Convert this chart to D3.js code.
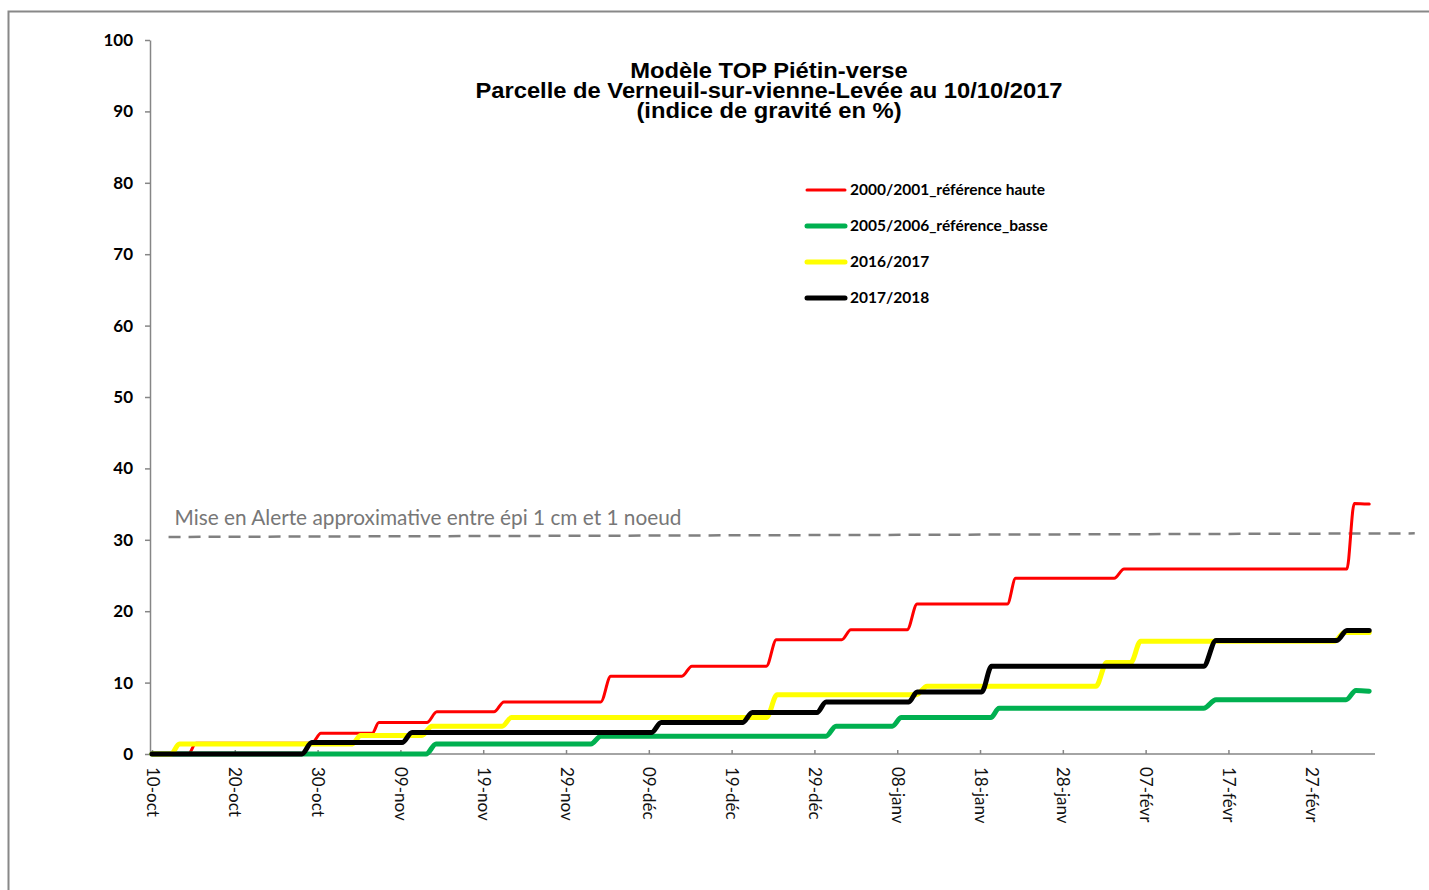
<!DOCTYPE html>
<html>
<head>
<meta charset="utf-8">
<script src="https://cdn.jsdelivr.net/npm/d3@7"></script>
<style>
  body { margin: 0; background: #fff; }
  text { font-family: Lato, "Open Sans", sans-serif; }
</style>
</head>
<body>
<div id="vis"></div>
<script>
// Days counted from 10-oct (day 0); each series = [day, indice de gravité %]
const seriesNames = ["2000/2001_référence haute", "2005/2006_référence_basse", "2016/2017", "2017/2018"];
const seriesColors = ["#ff0000", "#00b050", "#ffff00", "#000000"];
const seriesWidths = [3, 5, 5, 5];

const haute2000 = [[0,0],[4.4,0],[5.3,1.5],[19.3,1.5],[20.4,2.9],[26.6,2.9],[27.4,4.4],[33.2,4.4],[34.4,5.9],
  [41.3,5.9],[42.5,7.3],[54.2,7.3],[55.4,10.9],[64,10.9],[65.2,12.3],[74.2,12.3],[75.4,16.0],[83.3,16.0],
  [84.4,17.4],[91.2,17.4],[92.4,21.0],[103.3,21.0],[104.3,24.6],[116.2,24.6],[117.4,25.9],[144.3,25.9],
  [145.2,35.1],[147,35.0]];
const basse2005 = [[0,0],[33.1,0],[34.3,1.4],[53,1.4],[54.2,2.5],[81.4,2.5],[82.6,3.9],[89.4,3.9],[90.5,5.1],
  [101.3,5.1],[102.3,6.4],[127,6.4],[128.5,7.6],[144.2,7.6],[145.4,8.9],[147,8.8]];
const saison2016 = [[0,0],[2.3,0],[3.3,1.4],[24.2,1.4],[25.2,2.6],[32.6,2.6],[33.8,3.9],[42.3,3.9],[43.4,5.1],
  [74.2,5.1],[75.5,8.3],[92.3,8.3],[93.6,9.5],[114,9.5],[115.3,12.8],[118.2,12.8],[119.4,15.8],[142.8,15.8],
  [144,17.0],[147,17.0]];
const saison2017 = [[0,0],[18.1,0],[19.3,1.6],[30.2,1.6],[31.4,3.0],[60.3,3.0],[61.5,4.4],[71.3,4.4],[72.5,5.8],
  [80.3,5.8],[81.4,7.3],[91.4,7.3],[92.4,8.7],[100.2,8.7],[101.4,12.3],[127,12.3],[128.5,15.9],[143.1,15.9],
  [144.3,17.3],[147,17.3]];

const tickDays = [0,10,20,30,40,50,60,70,80,90,100,110,120,130,140];
const tickLabels = ["10-oct","20-oct","30-oct","09-nov","19-nov","29-nov","09-déc","19-déc","29-déc",
  "08-janv","18-janv","28-janv","07-févr","17-févr","27-févr"];
const yTicks = [0,10,20,30,40,50,60,70,80,90,100];

const alertDays = [2, 152.5];
const alertValues = [30.4, 30.9];
const alertLabel = "Mise en Alerte approximative entre épi 1 cm et 1 noeud";

const titleLines = ["Modèle TOP Piétin-verse", "Parcelle de Verneuil-sur-vienne-Levée au 10/10/2017", "(indice de gravité en %)"];

const W = 1429, H = 890;
const svg = d3.select("#vis").append("svg").attr("width", W).attr("height", H);

// chart frame
svg.append("rect").attr("x", 8.5).attr("y", 11.5).attr("width", W).attr("height", H)
  .attr("fill", "#fff").attr("stroke", "#888").attr("stroke-width", 2);

const x = d3.scaleLinear().domain([0, 147.7]).range([152, 1375]);
const y = d3.scaleLinear().domain([0, 100]).range([754, 40]);

// axes
const yAxis = svg.append("g").attr("transform", "translate(150,0)")
  .call(d3.axisLeft(y).tickValues(yTicks).tickSizeInner(5).tickSizeOuter(0).tickPadding(12));
yAxis.selectAll("path, line").attr("stroke", "#868686").attr("stroke-width", 1.5);
yAxis.selectAll("text").attr("fill", "#000").style("font-size", "17px").style("font-weight", "bold");

const xAxis = svg.append("g").attr("transform", `translate(0,${y(0)})`)
  .call(d3.axisBottom(x).tickValues(tickDays).tickFormat((d, i) => tickLabels[i])
    .tickSizeInner(-4).tickSizeOuter(0));
xAxis.select(".domain").attr("d", `M150,0H${x.range()[1]}`);
xAxis.selectAll("path, line").attr("stroke", "#868686").attr("stroke-width", 1.5);
xAxis.selectAll("text")
  .attr("fill", "#111").style("font-size", "17px")
  .attr("text-anchor", "start")
  .attr("x", 0).attr("y", 0).attr("dy", "0.35em")
  .attr("transform", "translate(0,13) rotate(90)");

// alert line
svg.append("line")
  .attr("x1", x(alertDays[0])).attr("x2", x(alertDays[1]))
  .attr("y1", y(alertValues[0])).attr("y2", y(alertValues[1]))
  .attr("stroke", "#808080").attr("stroke-width", 2.5).attr("stroke-dasharray", "12,8");
svg.append("text").attr("x", x(alertDays[0]) + 6).attr("y", y(alertValues[0]) - 12)
  .attr("fill", "#777").style("font-size", "20.8px").text(alertLabel);

// series
const line = d3.line().x(d => x(d[0])).y(d => y(d[1])).curve(d3.curveMonotoneX);
const allSeries = [haute2000, basse2005, saison2016, saison2017];
svg.selectAll(".serie").data(allSeries).join("path")
  .attr("class", "serie")
  .attr("d", line)
  .attr("fill", "none")
  .attr("stroke", (d, i) => seriesColors[i])
  .attr("stroke-width", (d, i) => seriesWidths[i])
  .attr("stroke-linejoin", "round").attr("stroke-linecap", "round");

// title (slightly stretched horizontally, as in the original)
const title = svg.append("g").attr("transform", "translate(769,0) scale(1.08,1)");
title.selectAll("text").data(titleLines).join("text")
  .attr("x", 0).attr("y", (d, i) => 78 + i * 20).attr("text-anchor", "middle")
  .style("font-family", "'Liberation Sans', Arial, sans-serif").style("font-weight", "bold").style("font-size", "22px")
  .text(d => d);

// legend
const legend = svg.append("g").attr("transform", "translate(805,190)");
const item = legend.selectAll("g").data(seriesNames).join("g")
  .attr("transform", (d, i) => `translate(0,${i * 36})`);
item.append("line").attr("x1", 2).attr("x2", 40)
  .attr("stroke", (d, i) => seriesColors[i]).attr("stroke-width", (d, i) => seriesWidths[i])
  .attr("stroke-linecap", "round");
item.append("text").attr("x", 45).attr("dy", "0.35em")
  .style("font-size", "15.5px").style("font-weight", "bold").text(d => d);
</script>
</body>
</html>
